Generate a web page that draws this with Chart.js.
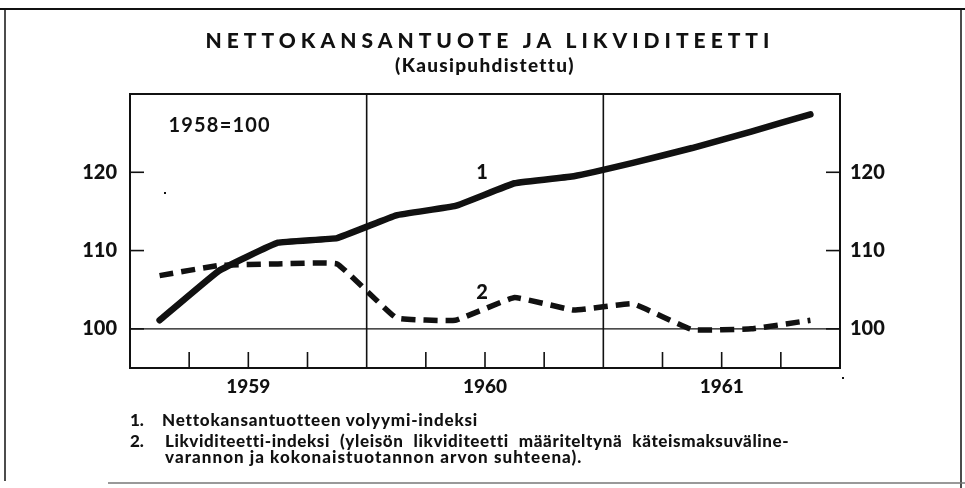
<!DOCTYPE html>
<html><head><meta charset="utf-8">
<script src="https://cdn.jsdelivr.net/npm/chart.js@4.4.1/dist/chart.umd.min.js"></script>
<style>
html,body{margin:0;padding:0;background:#fff;}
#wrap{position:relative;width:965px;height:488px;overflow:hidden;font-family:Lato,"Open Sans",sans-serif;color:#111;}
canvas{position:absolute;left:0;top:0;}
.t{position:absolute;white-space:nowrap;font-weight:900;}
.fn{font-size:17px;line-height:20px;}
</style></head><body>
<div id="wrap">
<canvas id="c" width="965" height="488"></canvas>
<div class="t" style="left:5px;width:970px;text-align:center;top:27px;font-size:21px;letter-spacing:5px;line-height:26px">NETTOKANSANTUOTE JA LIKVIDITEETTI</div>
<div class="t" style="left:0;width:970px;text-align:center;top:54px;font-size:19px;line-height:21px;letter-spacing:1.3px">(Kausipuhdistettu)</div>
<div class="t fn" style="left:130px;top:410px;">1.</div>
<div class="t fn" style="left:162px;top:410px;letter-spacing:0.8px">Nettokansantuotteen volyymi-indeksi</div>
<div class="t fn" style="left:130px;top:431px;">2.</div>
<div class="t fn" style="left:165px;top:431px;letter-spacing:0.6px;word-spacing:5.5px">Likviditeetti-indeksi (yleisön likviditeetti määriteltynä käteismaksuväline-</div>
<div class="t fn" style="left:165px;top:447px;letter-spacing:1.05px">varannon ja kokonaistuotannon arvon suhteena).</div>
</div>
<script>
// ---- data ----
const quarters = ['1959 I','1959 II','1959 III','1959 IV','1960 I','1960 II','1960 III','1960 IV','1961 I','1961 II','1961 III','1961 IV'];
const years = ['1959','1960','1961'];
const nettokansantuote = [101.1, 107.4, 111.0, 111.6, 114.5, 115.7, 118.6, 119.5, 121.2, 123.1, 125.2, 127.4];
const likviditeetti = [106.8, 108.1, 108.3, 108.3, 101.4, 101.1, 104.0, 102.4, 103.2, 99.9, 100.0, 101.1];
const yTicks = [100, 110, 120];
const yMin = 95, yMax = 130;
const seriesLabels = [{text:'1', q:5.45, v:120.0}, {text:'2', q:5.45, v:104.7}];
const baseLabel = {text:'1958=100', q:0.15, v:126.0};

const INK = '#111';
const FONT = 'Lato, "Open Sans", sans-serif';

const framePlugin = {
  id: 'frame',
  beforeDatasetsDraw(chart) {
    const ctx = chart.ctx, a = chart.chartArea;
    const xs = chart.scales.x, ys = chart.scales.y;
    const n = quarters.length;
    const bound = i => i === 0 ? a.left : (i === n ? a.right : (xs.getPixelForValue(i - 1) + xs.getPixelForValue(i)) / 2);
    ctx.save();
    ctx.strokeStyle = INK;
    // outer frame
    ctx.lineWidth = 2.2;
    ctx.beginPath(); ctx.moveTo(0, 9); ctx.lineTo(965, 9); ctx.stroke();
    ctx.lineWidth = 1.5;
    ctx.beginPath(); ctx.moveTo(5, 9); ctx.lineTo(5, 481); ctx.stroke();
    ctx.beginPath(); ctx.moveTo(961, 9); ctx.lineTo(961, 488); ctx.stroke();
    ctx.strokeStyle = '#777';
    ctx.beginPath(); ctx.moveTo(108, 483); ctx.lineTo(965, 483); ctx.stroke();
    ctx.strokeStyle = INK;
    // plot border
    ctx.lineWidth = 2;
    ctx.strokeRect(a.left, a.top, a.right - a.left, a.bottom - a.top);
    // year dividers and quarter ticks
    for (let i = 1; i < n; i++) {
      const x = bound(i);
      ctx.beginPath();
      ctx.lineWidth = 1.6;
      if (i % 4 === 0) { ctx.moveTo(x, a.top); ctx.lineTo(x, a.bottom); }
      else { ctx.moveTo(x, a.bottom); ctx.lineTo(x, a.bottom - 16); }
      ctx.stroke();
    }
    // base line at 100
    const y100 = ys.getPixelForValue(100);
    ctx.lineWidth = 1.3;
    ctx.beginPath(); ctx.moveTo(a.left, y100); ctx.lineTo(a.right, y100); ctx.stroke();
    // inner y ticks
    ctx.lineWidth = 1.6;
    yTicks.forEach(v => {
      const y = ys.getPixelForValue(v);
      ctx.beginPath(); ctx.moveTo(a.left, y); ctx.lineTo(a.left + 14, y); ctx.stroke();
      ctx.beginPath(); ctx.moveTo(a.right - 14, y); ctx.lineTo(a.right, y); ctx.stroke();
    });
    // small specks from the print
    ctx.fillStyle = INK;
    ctx.fillRect(164, 192, 2, 2);
    ctx.fillRect(842, 377, 2, 2);
    ctx.restore();
  },
  afterDatasetsDraw(chart) {
    const ctx = chart.ctx;
    const xs = chart.scales.x, ys = chart.scales.y;
    ctx.save();
    ctx.fillStyle = INK;
    ctx.textBaseline = 'middle';
    ctx.textAlign = 'center';
    ctx.font = '900 20px ' + FONT;
    seriesLabels.forEach(l => ctx.fillText(l.text, xs.getPixelForValue(l.q), ys.getPixelForValue(l.v)));
    ctx.textAlign = 'left';
    ctx.font = '700 20px ' + FONT;
    if ('letterSpacing' in ctx) ctx.letterSpacing = '1.2px';
    ctx.fillText(baseLabel.text, xs.getPixelForValue(baseLabel.q), ys.getPixelForValue(baseLabel.v));
    ctx.restore();
  }
};

const tickFont = {family: FONT, size: 20, weight: '900'};

new Chart(document.getElementById('c'), {
  type: 'line',
  data: {
    labels: quarters,
    datasets: [
      {label: 'Nettokansantuotteen volyymi-indeksi', data: nettokansantuote, xAxisID: 'x', yAxisID: 'y',
       borderColor: INK, borderWidth: 6.5, pointRadius: 0, tension: 0.08, borderCapStyle: 'round', borderJoinStyle: 'round', fill: false},
      {label: 'Likviditeetti-indeksi', data: likviditeetti, xAxisID: 'x', yAxisID: 'y',
       borderColor: INK, borderWidth: 5.5, pointRadius: 0, tension: 0.08, borderDash: [14, 8], borderCapStyle: 'butt', borderJoinStyle: 'round', fill: false}
    ]
  },
  options: {
    responsive: false,
    animation: false,
    devicePixelRatio: 1,
    layout: {padding: {top: 94, bottom: 90, left: 0, right: 0}},
    plugins: {legend: {display: false}, tooltip: {enabled: false}, title: {display: false}},
    scales: {
      x: {type: 'category', labels: quarters, offset: true, display: false, grid: {display: false}},
      x2: {type: 'category', labels: years, offset: true, position: 'bottom',
           grid: {display: false, drawTicks: false}, border: {display: false},
           ticks: {font: {family: FONT, size: 19, weight: '900'}, color: INK, padding: 7, maxRotation: 0},
           afterFit(s) { s.height = 30; }},
      y: {type: 'linear', position: 'left', min: yMin, max: yMax,
          grid: {display: false, drawTicks: false}, border: {display: false},
          afterBuildTicks(s) { s.ticks = yTicks.map(v => ({value: v})); },
          ticks: {font: tickFont, color: INK, padding: 13},
          afterFit(s) { s.width = 130; }},
      y2: {type: 'linear', position: 'right', min: yMin, max: yMax,
          grid: {display: false, drawTicks: false}, border: {display: false},
          afterBuildTicks(s) { s.ticks = yTicks.map(v => ({value: v})); },
          ticks: {font: tickFont, color: INK, padding: 10},
          afterFit(s) { s.width = 125; }}
    }
  },
  plugins: [framePlugin]
});
</script>
</body></html>
